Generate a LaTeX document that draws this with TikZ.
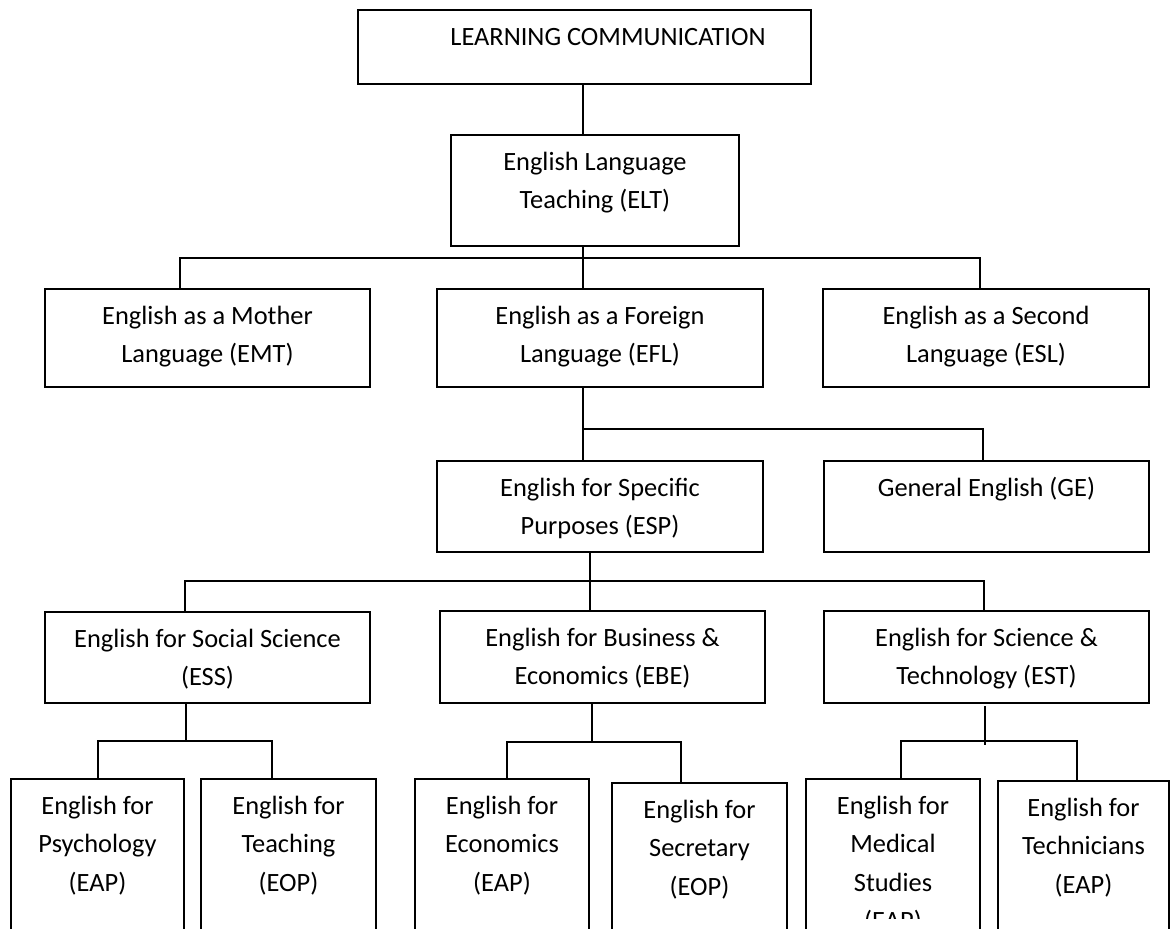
\documentclass[tikz,border=0pt]{standalone}
\usepackage{fontspec}
\setmainfont{Carlito}
\newcommand\boxlines[1]{\parbox[t]{250pt}{\centering #1}}
\begin{document}
\begin{tikzpicture}[x=0.75pt,y=-0.75pt,
  ln/.style={line width=1.2pt},
  bx/.style 2 args={draw, line width=1.2pt, anchor=north west, inner sep=0pt, outer sep=0pt,
    minimum width=#1*0.75pt, minimum height=#2*0.75pt},
  txt/.style={anchor=base, inner sep=0pt, font=\fontsize{19.8pt}{28.9pt}\selectfont}]
\useasboundingbox (0,0) rectangle (1170,928);
\clip (0,0) rectangle (1170,928);

% boxes
\node[bx={453}{74}]  (lc)  at (358,10)  {};
\node[bx={288}{111}] (elt) at (451,135) {};
\node[bx={325}{98}]  (emt) at (45,289)  {};
\node[bx={326}{98}]  (efl) at (437,289) {};
\node[bx={326}{98}]  (esl) at (823,289) {};
\node[bx={326}{91}]  (esp) at (437,461) {};
\node[bx={325}{91}]  (ge)  at (824,461) {};
\node[bx={325}{91}]  (ess) at (45,612)  {};
\node[bx={325}{92}]  (ebe) at (440,611) {};
\node[bx={325}{92}]  (est) at (824,611) {};
\node[bx={173}{200}] (p1)  at (11,779)  {};
\node[bx={175}{200}] (p2)  at (201,779) {};
\node[bx={174}{200}] (p3)  at (415,779) {};
\node[bx={175}{200}] (p4)  at (612,783) {};
\node[bx={174}{200}] (p5)  at (806,779) {};
\node[bx={171}{200}] (p6)  at (998,781) {};

% labels
\node[txt] (tlc)  at ([xshift=17.6pt,yshift=-26.25pt]lc.north) {LEARNING COMMUNICATION};
\node[txt] (telt) at ([yshift=-26.25pt]elt.north) {\boxlines{English Language\\Teaching (ELT)}};
\node[txt] (temt) at ([yshift=-26.25pt]emt.north) {\boxlines{English as a Mother\\Language (EMT)}};
\node[txt] (tefl) at ([yshift=-26.25pt]efl.north) {\boxlines{English as a Foreign\\Language (EFL)}};
\node[txt] (tesl) at ([yshift=-26.25pt]esl.north) {\boxlines{English as a Second\\Language (ESL)}};
\node[txt] (tesp) at ([yshift=-26.25pt]esp.north) {\boxlines{English for Specific\\Purposes (ESP)}};
\node[txt] (tge)  at ([yshift=-26.25pt]ge.north)  {General English (GE)};
\node[txt] (tess) at ([yshift=-26.25pt]ess.north) {\boxlines{English for Social Science\\(ESS)}};
\node[txt] (tebe) at ([yshift=-26.25pt]ebe.north) {\boxlines{English for Business \&\\Economics (EBE)}};
\node[txt] (test) at ([yshift=-26.25pt]est.north) {\boxlines{English for Science \&\\Technology (EST)}};
\node[txt] (tp1)  at ([yshift=-26.25pt]p1.north) {\boxlines{English for\\Psychology\\(EAP)}};
\node[txt] (tp2)  at ([yshift=-26.25pt]p2.north) {\boxlines{English for\\Teaching\\(EOP)}};
\node[txt] (tp3)  at ([yshift=-26.25pt]p3.north) {\boxlines{English for\\Economics\\(EAP)}};
\node[txt] (tp4)  at ([yshift=-26.25pt]p4.north) {\boxlines{English for\\Secretary\\(EOP)}};
\begin{scope}
  \clip (806,779) rectangle (980,918);
  \node[txt] (tp5) at ([yshift=-26.25pt]p5.north) {\boxlines{English for\\Medical\\Studies\\(EAP)}};
\end{scope}
\node[txt] (tp6)  at ([yshift=-26.25pt]p6.north) {\boxlines{English for\\Technicians\\(EAP)}};

% junction coordinates
\coordinate (b1)  at (583,258);
\coordinate (b1l) at (180,258);
\coordinate (b1r) at (980,258);
\coordinate (b2)  at (583,429);
\coordinate (b2r) at (983,429);
\coordinate (b3)  at (590,581);
\coordinate (b3l) at (185,581);
\coordinate (b3r) at (984,581);
\coordinate (b4)  at (186,741);
\coordinate (b4l) at (98,741);
\coordinate (b4r) at (272,741);
\coordinate (b5)  at (592,742);
\coordinate (b5l) at (507,742);
\coordinate (b5r) at (681,742);
\coordinate (b6)  at (985,741);
\coordinate (b6l) at (901,741);
\coordinate (b6r) at (1077,741);

% connectors
\draw[ln] (lc.south -| b1) -- (elt.north -| b1);
\draw[ln] (elt.south -| b1) -- (b1 |- efl.north);
\draw[ln] (b1l |- emt.north) -- (b1l) -- (b1r) -- (b1r |- esl.north);

\draw[ln] (efl.south -| b2) -- (b2 |- esp.north);
\draw[ln] (b2) -- (b2r) -- (b2r |- ge.north);

\draw[ln] (esp.south -| b3) -- (b3 |- ebe.north);
\draw[ln] (b3l |- ess.north) -- (b3l) -- (b3r) -- (b3r |- est.north);

\draw[ln] (ess.south -| b4) -- (b4);
\draw[ln] (b4l |- p1.north) -- (b4l) -- (b4r) -- (b4r |- p2.north);

\draw[ln] (ebe.south -| b5) -- (b5);
\draw[ln] (b5l |- p3.north) -- (b5l) -- (b5r) -- (b5r |- p4.north);

\draw[ln] ([yshift=-2.25pt]est.south -| b6) -- ([yshift=-3pt]b6);
\draw[ln] (b6l |- p5.north) -- (b6l) -- (b6r) -- (b6r |- p6.north);
\end{tikzpicture}
\end{document}
